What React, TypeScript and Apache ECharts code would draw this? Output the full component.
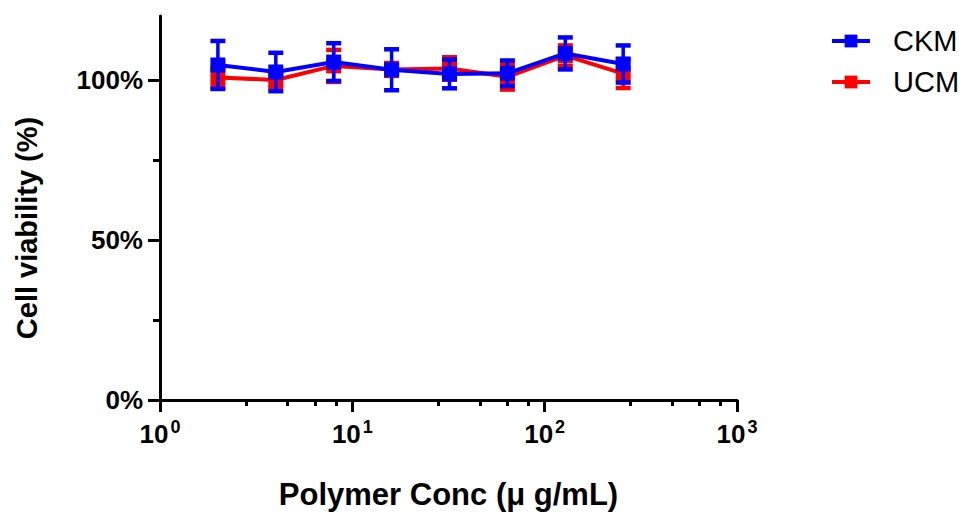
import React, { useEffect, useRef } from "react";
import * as echarts from "echarts";

const concentrations = [2, 4, 8, 16, 32, 64, 128, 256];
const ckmMean = [104.7, 102.5, 105.6, 103.2, 101.9, 102.1, 108.3, 105.0];
const ckmErr = [7.5, 6.0, 5.9, 6.4, 4.5, 4.0, 5.0, 5.8];
const ucmMean = [100.8, 100.0, 104.4, 103.3, 103.6, 101.0, 107.6, 102.0];
const ucmErr = [3.0, 2.5, 5.0, 2.0, 3.5, 4.0, 3.2, 4.5];
const yMajorTicks = [0, 50, 100];
const yMinorTicks = [25, 75];
const seriesNames = ["CKM", "UCM"];
const colors = { CKM: "#0000ff", UCM: "#ff0000" };

const FONT = "'Liberation Sans', Arial, sans-serif";

function errorSeries(name: string, mean: number[], err: number[], color: string, z: number) {
  return {
    type: "custom",
    name: name + " error",
    z,
    xAxisIndex: 0,
    yAxisIndex: 0,
    encode: { x: 0, y: [1, 2] },
    data: concentrations.map((c, i) => [c, mean[i] - err[i], mean[i] + err[i]]),
    renderItem: (params: any, api: any) => {
      const x = api.value(0);
      const lo = api.coord([x, api.value(1)]);
      const hi = api.coord([x, api.value(2)]);
      const hw = 7.5;
      const style = { stroke: color, lineWidth: 4.5 };
      return {
        type: "group",
        children: [
          { type: "line", shape: { x1: lo[0], y1: lo[1], x2: hi[0], y2: hi[1] }, style: { stroke: color, lineWidth: 3.5 } },
          { type: "line", shape: { x1: hi[0] - hw, y1: hi[1], x2: hi[0] + hw, y2: hi[1] }, style },
          { type: "line", shape: { x1: lo[0] - hw, y1: lo[1], x2: lo[0] + hw, y2: lo[1] }, style },
        ],
      };
    },
  };
}

function lineSeries(name: string, mean: number[], color: string, z: number) {
  return {
    type: "line",
    name,
    z,
    xAxisIndex: 0,
    yAxisIndex: 0,
    data: concentrations.map((c, i) => [c, mean[i]]),
    symbol: "rect",
    symbolSize: 15,
    lineStyle: { color, width: 4 },
    itemStyle: { color },
  };
}

export default function App() {
  const ref = useRef<HTMLDivElement>(null);
  useEffect(() => {
    if (!ref.current) return;
    const chart = echarts.init(ref.current, null, { renderer: "svg" });
    chart.setOption({
      animation: false,
      backgroundColor: "#ffffff",
      grid: { left: 160, right: 222, top: 16, bottom: 117 },
      legend: {
        data: seriesNames,
        orient: "vertical",
        left: 825,
        top: 20,
        itemWidth: 38,
        itemHeight: 16,
        itemGap: 9,
        lineStyle: { width: 4 },
        textStyle: { fontFamily: FONT, fontSize: 29, color: "#000", padding: [0, 0, 0, 18], lineHeight: 32 },
      },
      xAxis: {
        type: "log",
        logBase: 10,
        min: 1,
        max: 1000,
        name: "Polymer Conc (μ g/mL)",
        nameLocation: "middle",
        nameGap: 79,
        nameTextStyle: { fontFamily: FONT, fontSize: 31, fontWeight: "bold", color: "#000" },
        axisLine: { lineStyle: { color: "#000", width: 3 } },
        axisTick: { length: 12, lineStyle: { color: "#000", width: 3 } },
        minorTick: { show: true, splitNumber: 5, length: 6, lineStyle: { color: "#000", width: 3 } },
        splitLine: { show: false },
        minorSplitLine: { show: false },
        axisLabel: {
          margin: 18,
          formatter: (v: number) => `{b|10}{s|${Math.round(Math.log10(v))}}`,
          rich: {
            b: { fontFamily: FONT, fontSize: 26, fontWeight: "bold", color: "#000" },
            s: { fontFamily: FONT, fontSize: 18, fontWeight: "bold", color: "#000", padding: [0, 0, 13, 2] },
          },
        },
      },
      yAxis: [
        {
          type: "value",
          min: 0,
          max: 120,
          axisLine: { show: true, lineStyle: { color: "#000", width: 3 } },
          axisTick: { show: true, length: 12, customValues: yMajorTicks, lineStyle: { color: "#000", width: 3 } },
          splitLine: { show: false },
          axisLabel: {
            customValues: yMajorTicks,
            margin: 17,
            formatter: "{value}%",
            fontFamily: FONT,
            fontSize: 26,
            fontWeight: "bold",
            color: "#000",
          },
        },
        {
          type: "value",
          min: 0,
          max: 120,
          position: "left",
          axisLine: { show: false },
          axisTick: { show: true, length: 7, customValues: yMinorTicks, lineStyle: { color: "#000", width: 3 } },
          axisLabel: { show: false },
          splitLine: { show: false },
        },
      ],
      graphic: [
        {
          type: "text",
          x: 27,
          y: 228,
          rotation: Math.PI / 2,
          style: {
            text: "Cell viability (%)",
            fontFamily: FONT,
            fontSize: 29,
            fontWeight: "bold",
            fill: "#000",
            align: "center",
            verticalAlign: "middle",
          },
        },
      ],
      series: [
        errorSeries("UCM", ucmMean, ucmErr, colors.UCM, 1),
        lineSeries("UCM", ucmMean, colors.UCM, 2),
        errorSeries("CKM", ckmMean, ckmErr, colors.CKM, 3),
        lineSeries("CKM", ckmMean, colors.CKM, 4),
      ],
    });
    return () => chart.dispose();
  }, []);
  return (
    <div
      ref={ref}
      style={{ position: "absolute", left: 0, top: 0, width: 959, height: 517, background: "#fff" }}
    />
  );
}
